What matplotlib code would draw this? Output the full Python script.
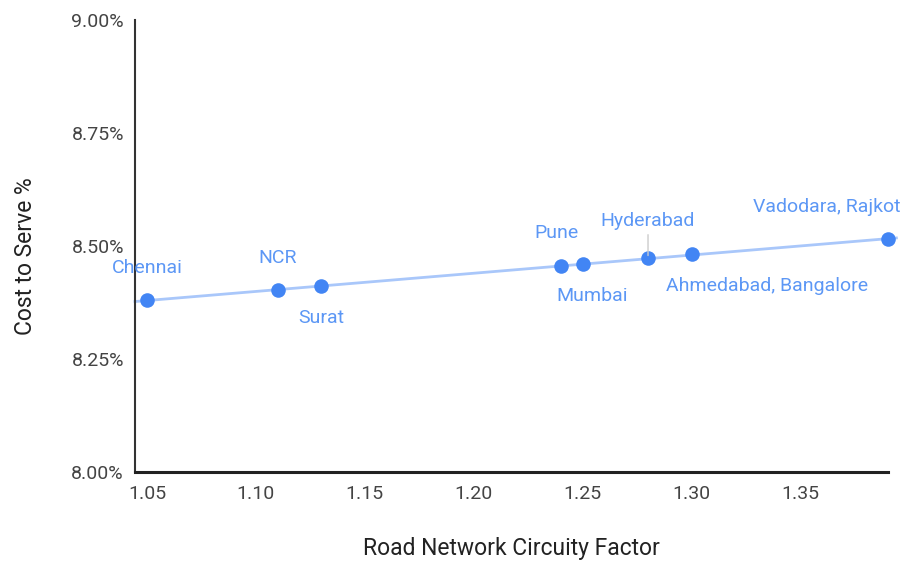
import numpy as np
import matplotlib.pyplot as plt
from matplotlib.ticker import FuncFormatter

plt.rcParams['font.family'] = ['Roboto', 'DejaVu Sans']

cities = ["Chennai", "NCR", "Surat", "Pune", "Mumbai", "Hyderabad",
          "Ahmedabad, Bangalore", "Vadodara, Rajkot"]
circuity = [1.05, 1.11, 1.13, 1.24, 1.25, 1.28, 1.30, 1.39]
cost = [8.380, 8.403, 8.411, 8.456, 8.460, 8.473, 8.482, 8.515]

# label offsets in points (dx, dy)
offs = [(0, 23), (0, 23), (0, -23), (-3, 24), (7, -23), (0, 27), (54, -23), (-44, 23)]

fig = plt.figure(figsize=(9.03, 5.61), dpi=100)
ax = fig.add_axes([0.1495, 0.1586, 0.8335, 0.8054])

blue = "#4285F4"
lblue = "#5C97F5"

# trendline
k, q = np.polyfit(circuity, cost, 1)
xx = np.array([1.0445, 1.394])
ax.plot(xx, k * xx + q, color="#A9C7FA", lw=2, zorder=1, clip_on=False)

ax.scatter(circuity, cost, s=110, color=blue, zorder=3, linewidths=0, clip_on=False)

for i, c in enumerate(cities):
    dx, dy = offs[i]
    ax.annotate(c, (circuity[i], cost[i]), xytext=(dx, dy), textcoords="offset points",
                ha="center", va="center", color=lblue, fontsize=14)
# leader for Hyderabad
ax.annotate("", (circuity[5], cost[5]), xytext=(0, 19), textcoords="offset points",
            arrowprops=dict(arrowstyle="-", color="#cccccc", lw=1))

ax.set_xlim(1.0445, 1.39)
ax.set_ylim(8.0, 9.0)
ax.set_xticks([1.05, 1.10, 1.15, 1.20, 1.25, 1.30, 1.35])
ax.set_yticks([8.0, 8.25, 8.5, 8.75, 9.0])
ax.xaxis.set_major_formatter(FuncFormatter(lambda v, p: "%.2f" % v))
ax.yaxis.set_major_formatter(FuncFormatter(lambda v, p: "%.2f%%" % v))
ax.tick_params(axis="both", length=0, labelsize=14, labelcolor="#444444")
ax.tick_params(axis="x", pad=9)
ax.tick_params(axis="y", pad=8)

for s in ["top", "right"]:
    ax.spines[s].set_visible(False)
ax.spines["left"].set_color("#333333")
ax.spines["left"].set_linewidth(1.5)
ax.spines["bottom"].set_color("#222222")
ax.spines["bottom"].set_linewidth(2.2)

ax.set_xlabel("Road Network Circuity Factor", fontsize=16.5, color="#222222", labelpad=25)
ax.set_ylabel("Cost to Serve %", fontsize=16.5, color="#222222")
ax.yaxis.set_label_coords(-0.130, 0.478)

fig.savefig("out.png", dpi=100)
